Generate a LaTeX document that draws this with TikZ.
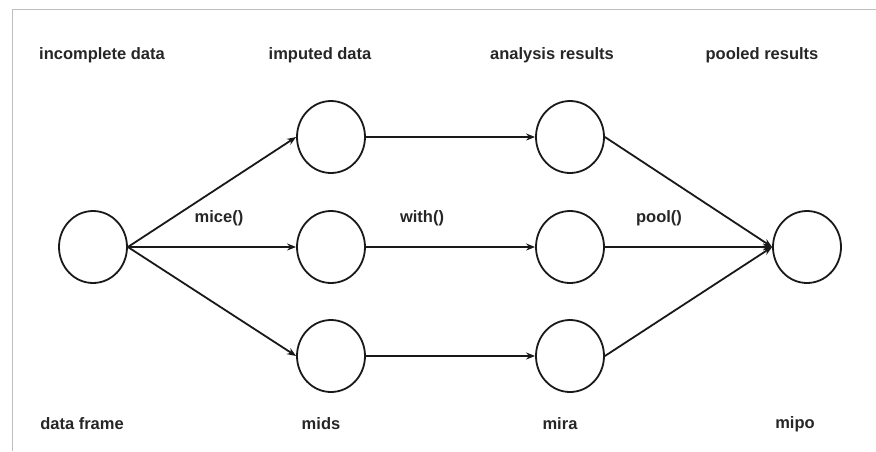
\documentclass[tikz,border=0pt]{standalone}
\usepackage{fontspec}
\setmainfont{Liberation Sans}
\usetikzlibrary{arrows.meta,shapes.geometric}
\begin{document}
\begin{tikzpicture}[x=1pt,y=-1pt,
  state/.style={ellipse,draw=black!90,line width=1.8pt,minimum width=68pt,minimum height=72pt,inner sep=0pt},
  lbl/.style={font=\fontsize{16.5}{20}\selectfont\bfseries,text=black!85,inner sep=0pt,anchor=center},
  conn/.style={draw=black!90,line width=1.8pt,-{Stealth[length=9pt,width=7pt]}},
  framel/.style={draw=black!25,line width=1pt}]
\useasboundingbox (0,0) rectangle (876,451);
\coordinate (f1) at (876,9);
\coordinate (f2) at (12,9);
\coordinate (f3) at (12,451);
\draw[framel] (f1) -- (f2) -- (f3);
% circles
\node[state] (df) at (93,247) {};
\node[state] (m1) at (331,137) {};
\node[state] (m2) at (331,247) {};
\node[state] (m3) at (331,356) {};
\node[state] (r1) at (570,137) {};
\node[state] (r2) at (570,247) {};
\node[state] (r3) at (570,356) {};
\node[state] (po) at (807,247) {};
% connectors
\draw[conn] (df.east) -- (m1.west);
\draw[conn] (df.east) -- (m2.west);
\draw[conn] (df.east) -- (m3.west);
\draw[conn] (m1.east) -- (r1.west);
\draw[conn] (m2.east) -- (r2.west);
\draw[conn] (m3.east) -- (r3.west);
\draw[conn] (r1.east) -- (po.west);
\draw[conn] (r2.east) -- (po.west);
\draw[conn] (r3.east) -- (po.west);
% labels
\node[lbl] (t1) at (102,55) {incomplete data};
\node[lbl] (t2) at (320,55) {imputed data};
\node[lbl] (t3) at (552,55) {analysis results};
\node[lbl] (t4) at (762,55) {pooled results};
\node[lbl] (b1) at (82,424) {data frame};
\node[lbl] (b2) at (321,424) {mids};
\node[lbl] (b3) at (560,424) {mira};
\node[lbl] (b4) at (795,424) {mipo};
\node[lbl] (e1) at (219,218) {mice()};
\node[lbl] (e2) at (422,218) {with()};
\node[lbl] (e3) at (659,218) {pool()};
\end{tikzpicture}
\end{document}
